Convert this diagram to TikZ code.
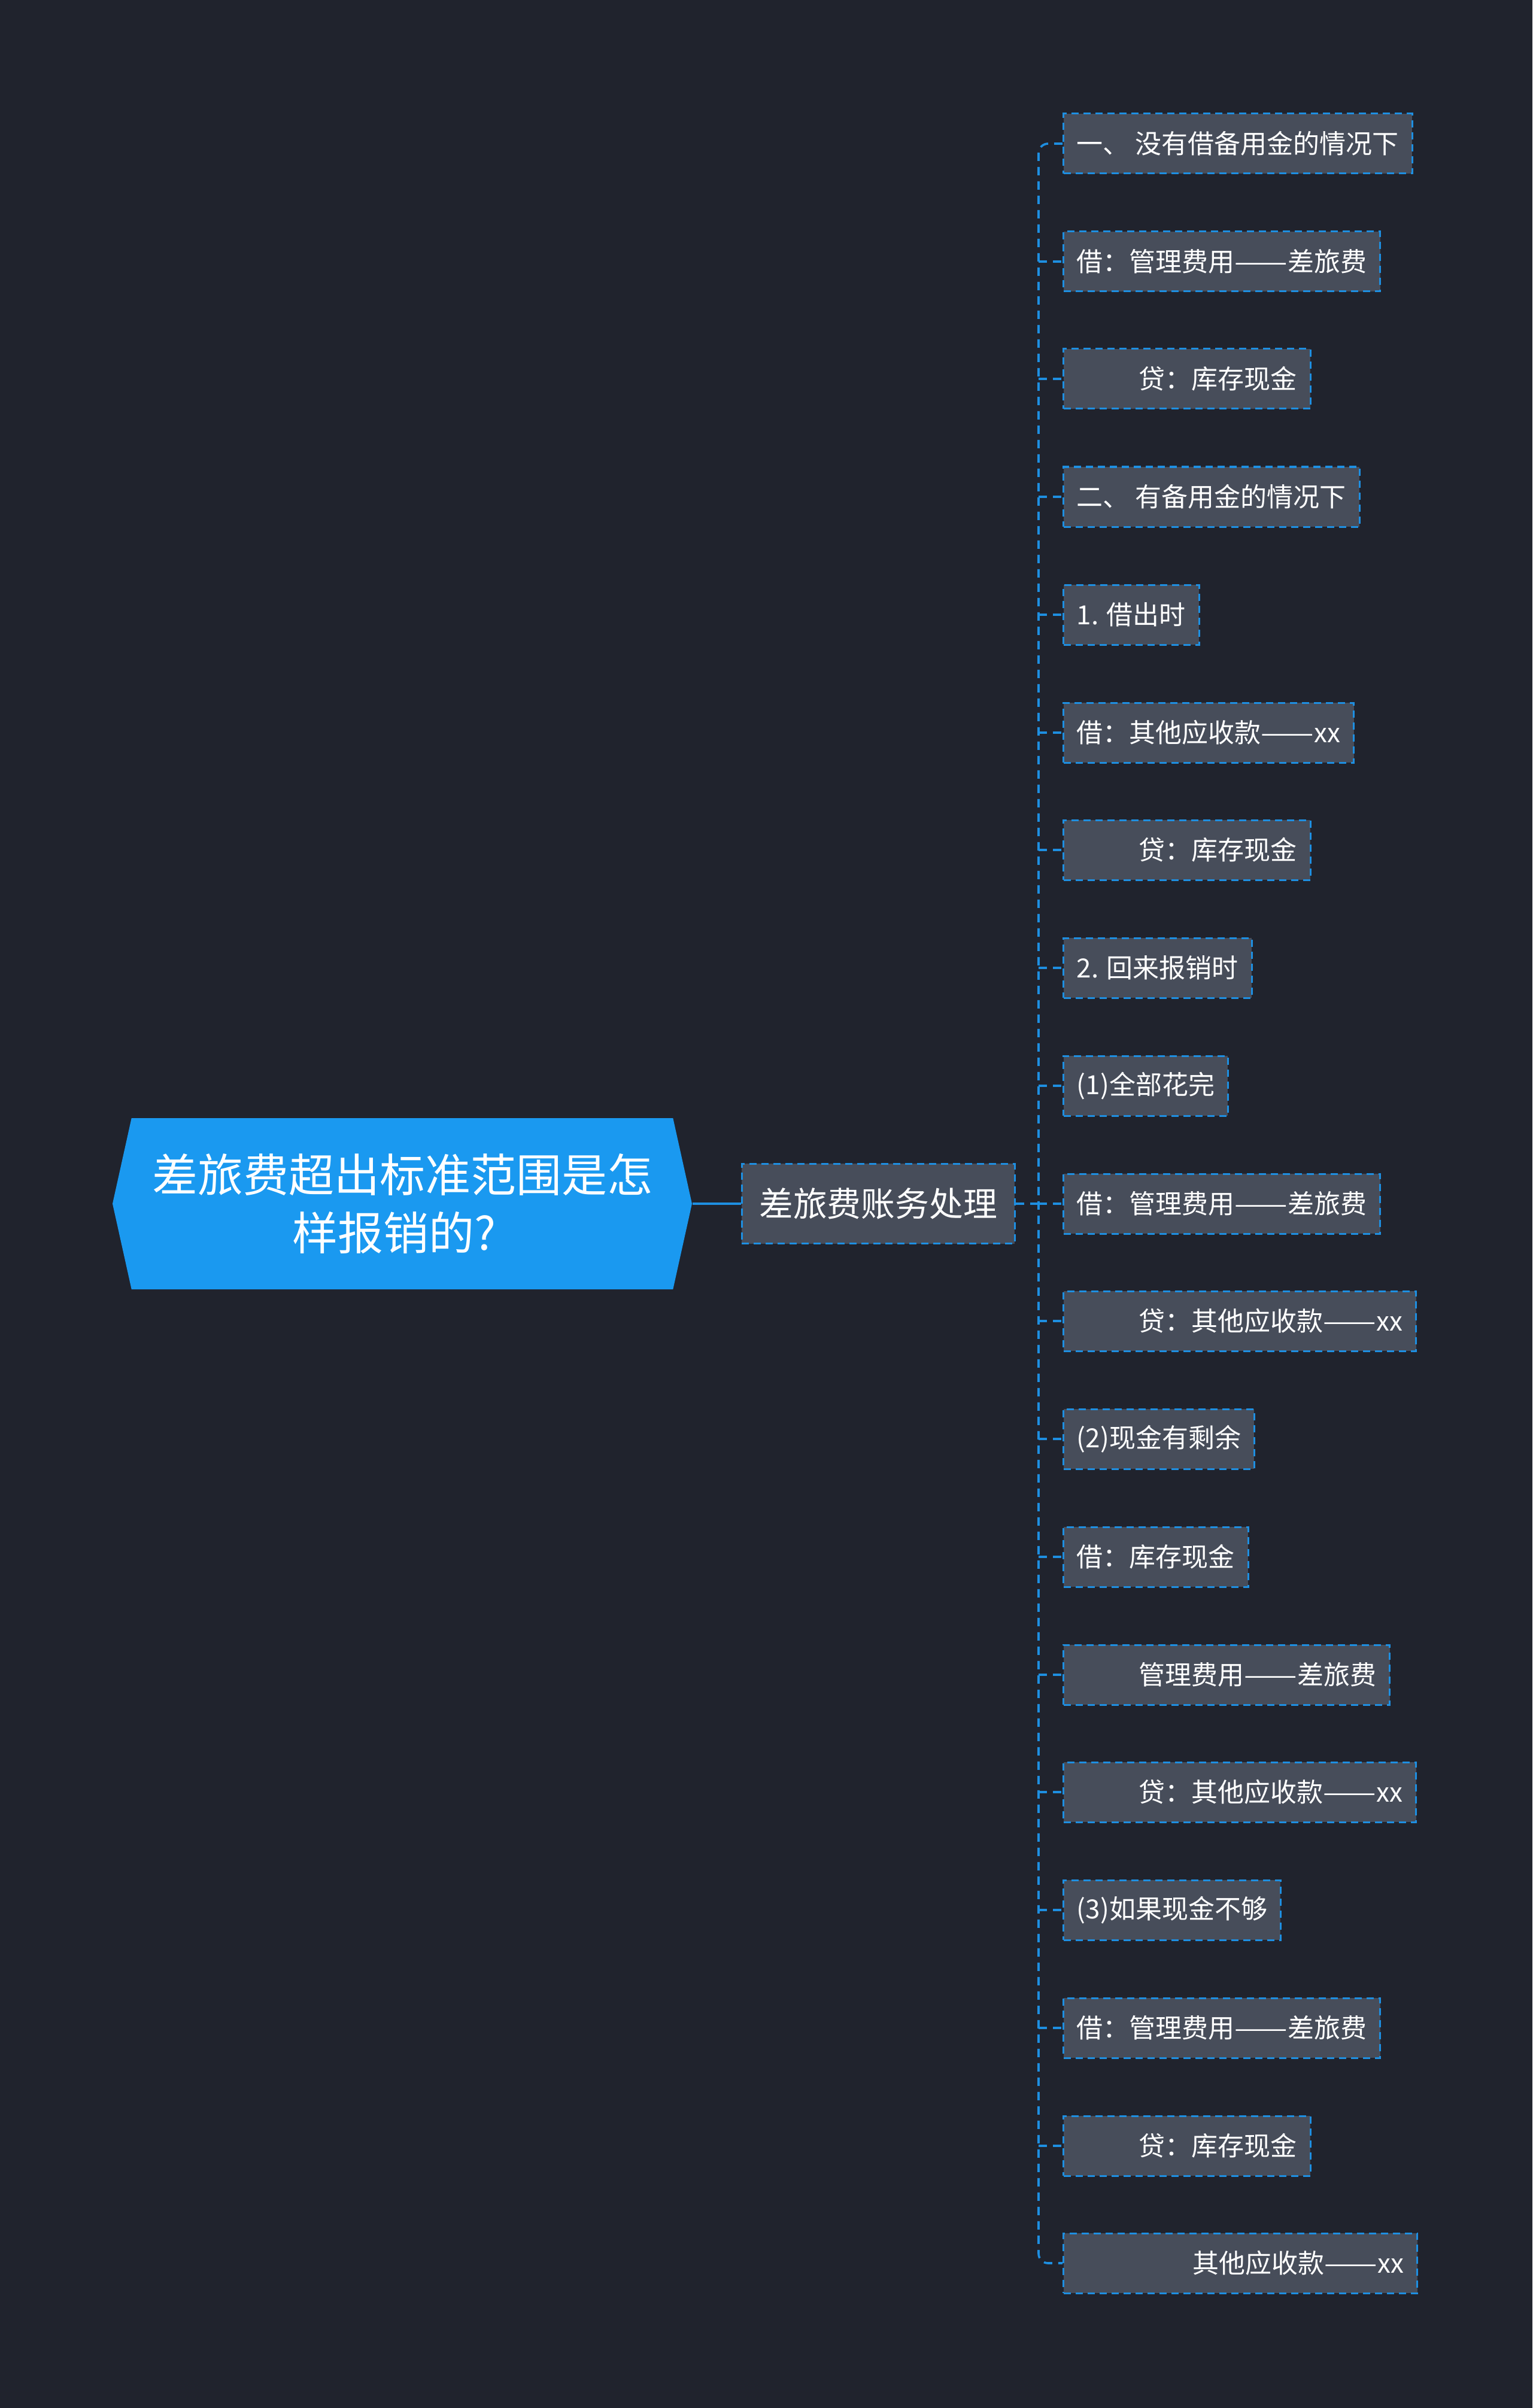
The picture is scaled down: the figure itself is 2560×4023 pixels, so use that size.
\documentclass[tikz,border=0pt]{standalone}
\usepackage{fontspec}
\setmainfont{Noto Sans CJK SC}
\usepackage{graphicx}
\usepackage{xcolor}
\usetikzlibrary{shapes.symbols}

\definecolor{bgcol}{HTML}{20232D}
\definecolor{rootblue}{HTML}{1A99F0}
\definecolor{leaffill}{HTML}{474D5A}
\definecolor{linkblue}{HTML}{1E8FE1}

\newcommand{\longdash}{\scalebox{1.2}[1]{——}}

\begin{document}
\begin{tikzpicture}[
            x = 0.25pt, y = -0.25pt, % one unit is one pixel of the reference
            rootbox/.style = {shape=signal, signal to=west and east, signal pointer angle=155,
                fill=rootblue, text=white, align=center, inner sep=0pt,
                minimum width=242pt, minimum height=71.5pt,
                font=\fontsize{19pt}{24.3pt}\selectfont},
            midbox/.style = {draw=linkblue, fill=leaffill, line width=0.75pt,
                dash pattern=on 3pt off 2pt, text=white, inner xsep=7.3pt,
                minimum height=33.3pt, font=\fontsize{14.2pt}{17pt}\selectfont},
            leaf/.style = {draw=linkblue, fill=leaffill, line width=0.75pt,
                dash pattern=on 3pt off 2pt, text=white, anchor=west, inner xsep=5.6pt,
                minimum height=25pt, font=\fontsize{11pt}{13pt}\selectfont},
            link/.style = {draw=linkblue, line width=0.9pt, dash pattern=on 3.5pt off 2.5pt},
            rootlink/.style = {draw=linkblue, line width=1.2pt}
        ]

\fill[bgcol] (0,0) rectangle (2560,4023);
\useasboundingbox (0,0) rectangle (2560,4023);

\node[rootbox] (root) at (672,2011) {差旅费超出标准范围是怎\\样报销的?\hspace*{6.5pt}};
\node[midbox] (mid) at (1467,2011) {差旅费账务处理};
\coordinate (trunk) at (1735,2011);

\node[leaf] (b1) at (1775,240) {一、 没有借备用金的情况下};
\node[leaf] (b2) at (1775,437) {借：管理费用\longdash 差旅费};
\node[leaf] (b3) at (1775,633) {\hspace{26pt}贷：库存现金};
\node[leaf] (b4) at (1775,830) {二、 有备用金的情况下};
\node[leaf] (b5) at (1775,1027) {1. 借出时};
\node[leaf] (b6) at (1775,1224) {借：其他应收款\longdash xx};
\node[leaf] (b7) at (1775,1420) {\hspace{26pt}贷：库存现金};
\node[leaf] (b8) at (1775,1617) {2. 回来报销时};
\node[leaf] (b9) at (1775,1814) {(1)全部花完};
\node[leaf] (b10) at (1775,2011) {借：管理费用\longdash 差旅费};
\node[leaf] (b11) at (1775,2207) {\hspace{26pt}贷：其他应收款\longdash xx};
\node[leaf] (b12) at (1775,2404) {(2)现金有剩余};
\node[leaf] (b13) at (1775,2601) {借：库存现金};
\node[leaf] (b14) at (1775,2798) {\hspace{26pt}管理费用\longdash 差旅费};
\node[leaf] (b15) at (1775,2994) {\hspace{26pt}贷：其他应收款\longdash xx};
\node[leaf] (b16) at (1775,3191) {(3)如果现金不够};
\node[leaf] (b17) at (1775,3388) {借：管理费用\longdash 差旅费};
\node[leaf] (b18) at (1775,3585) {\hspace{26pt}贷：库存现金};
\node[leaf] (b19) at (1775,3781) {\hspace{48.5pt}其他应收款\longdash xx};

 % root to the accounting node
 \path [rootlink] (root.east) edge (mid.west);
 \path [link] (mid.east) edge (trunk);

 % the trunk, first and last box
 \draw [link, rounded corners=4pt] (b1.west) -| (trunk) |- (b19.west);

 % short stubs
 \path [link] (b2.west -| trunk) edge (b2.west);
 \path [link] (b3.west -| trunk) edge (b3.west);
 \path [link] (b4.west -| trunk) edge (b4.west);
 \path [link] (b5.west -| trunk) edge (b5.west);
 \path [link] (b6.west -| trunk) edge (b6.west);
 \path [link] (b7.west -| trunk) edge (b7.west);
 \path [link] (b8.west -| trunk) edge (b8.west);
 \path [link] (b9.west -| trunk) edge (b9.west);
 \path [link] (b10.west -| trunk) edge (b10.west);
 \path [link] (b11.west -| trunk) edge (b11.west);
 \path [link] (b12.west -| trunk) edge (b12.west);
 \path [link] (b13.west -| trunk) edge (b13.west);
 \path [link] (b14.west -| trunk) edge (b14.west);
 \path [link] (b15.west -| trunk) edge (b15.west);
 \path [link] (b16.west -| trunk) edge (b16.west);
 \path [link] (b17.west -| trunk) edge (b17.west);
 \path [link] (b18.west -| trunk) edge (b18.west);
\end{tikzpicture}
\end{document}
